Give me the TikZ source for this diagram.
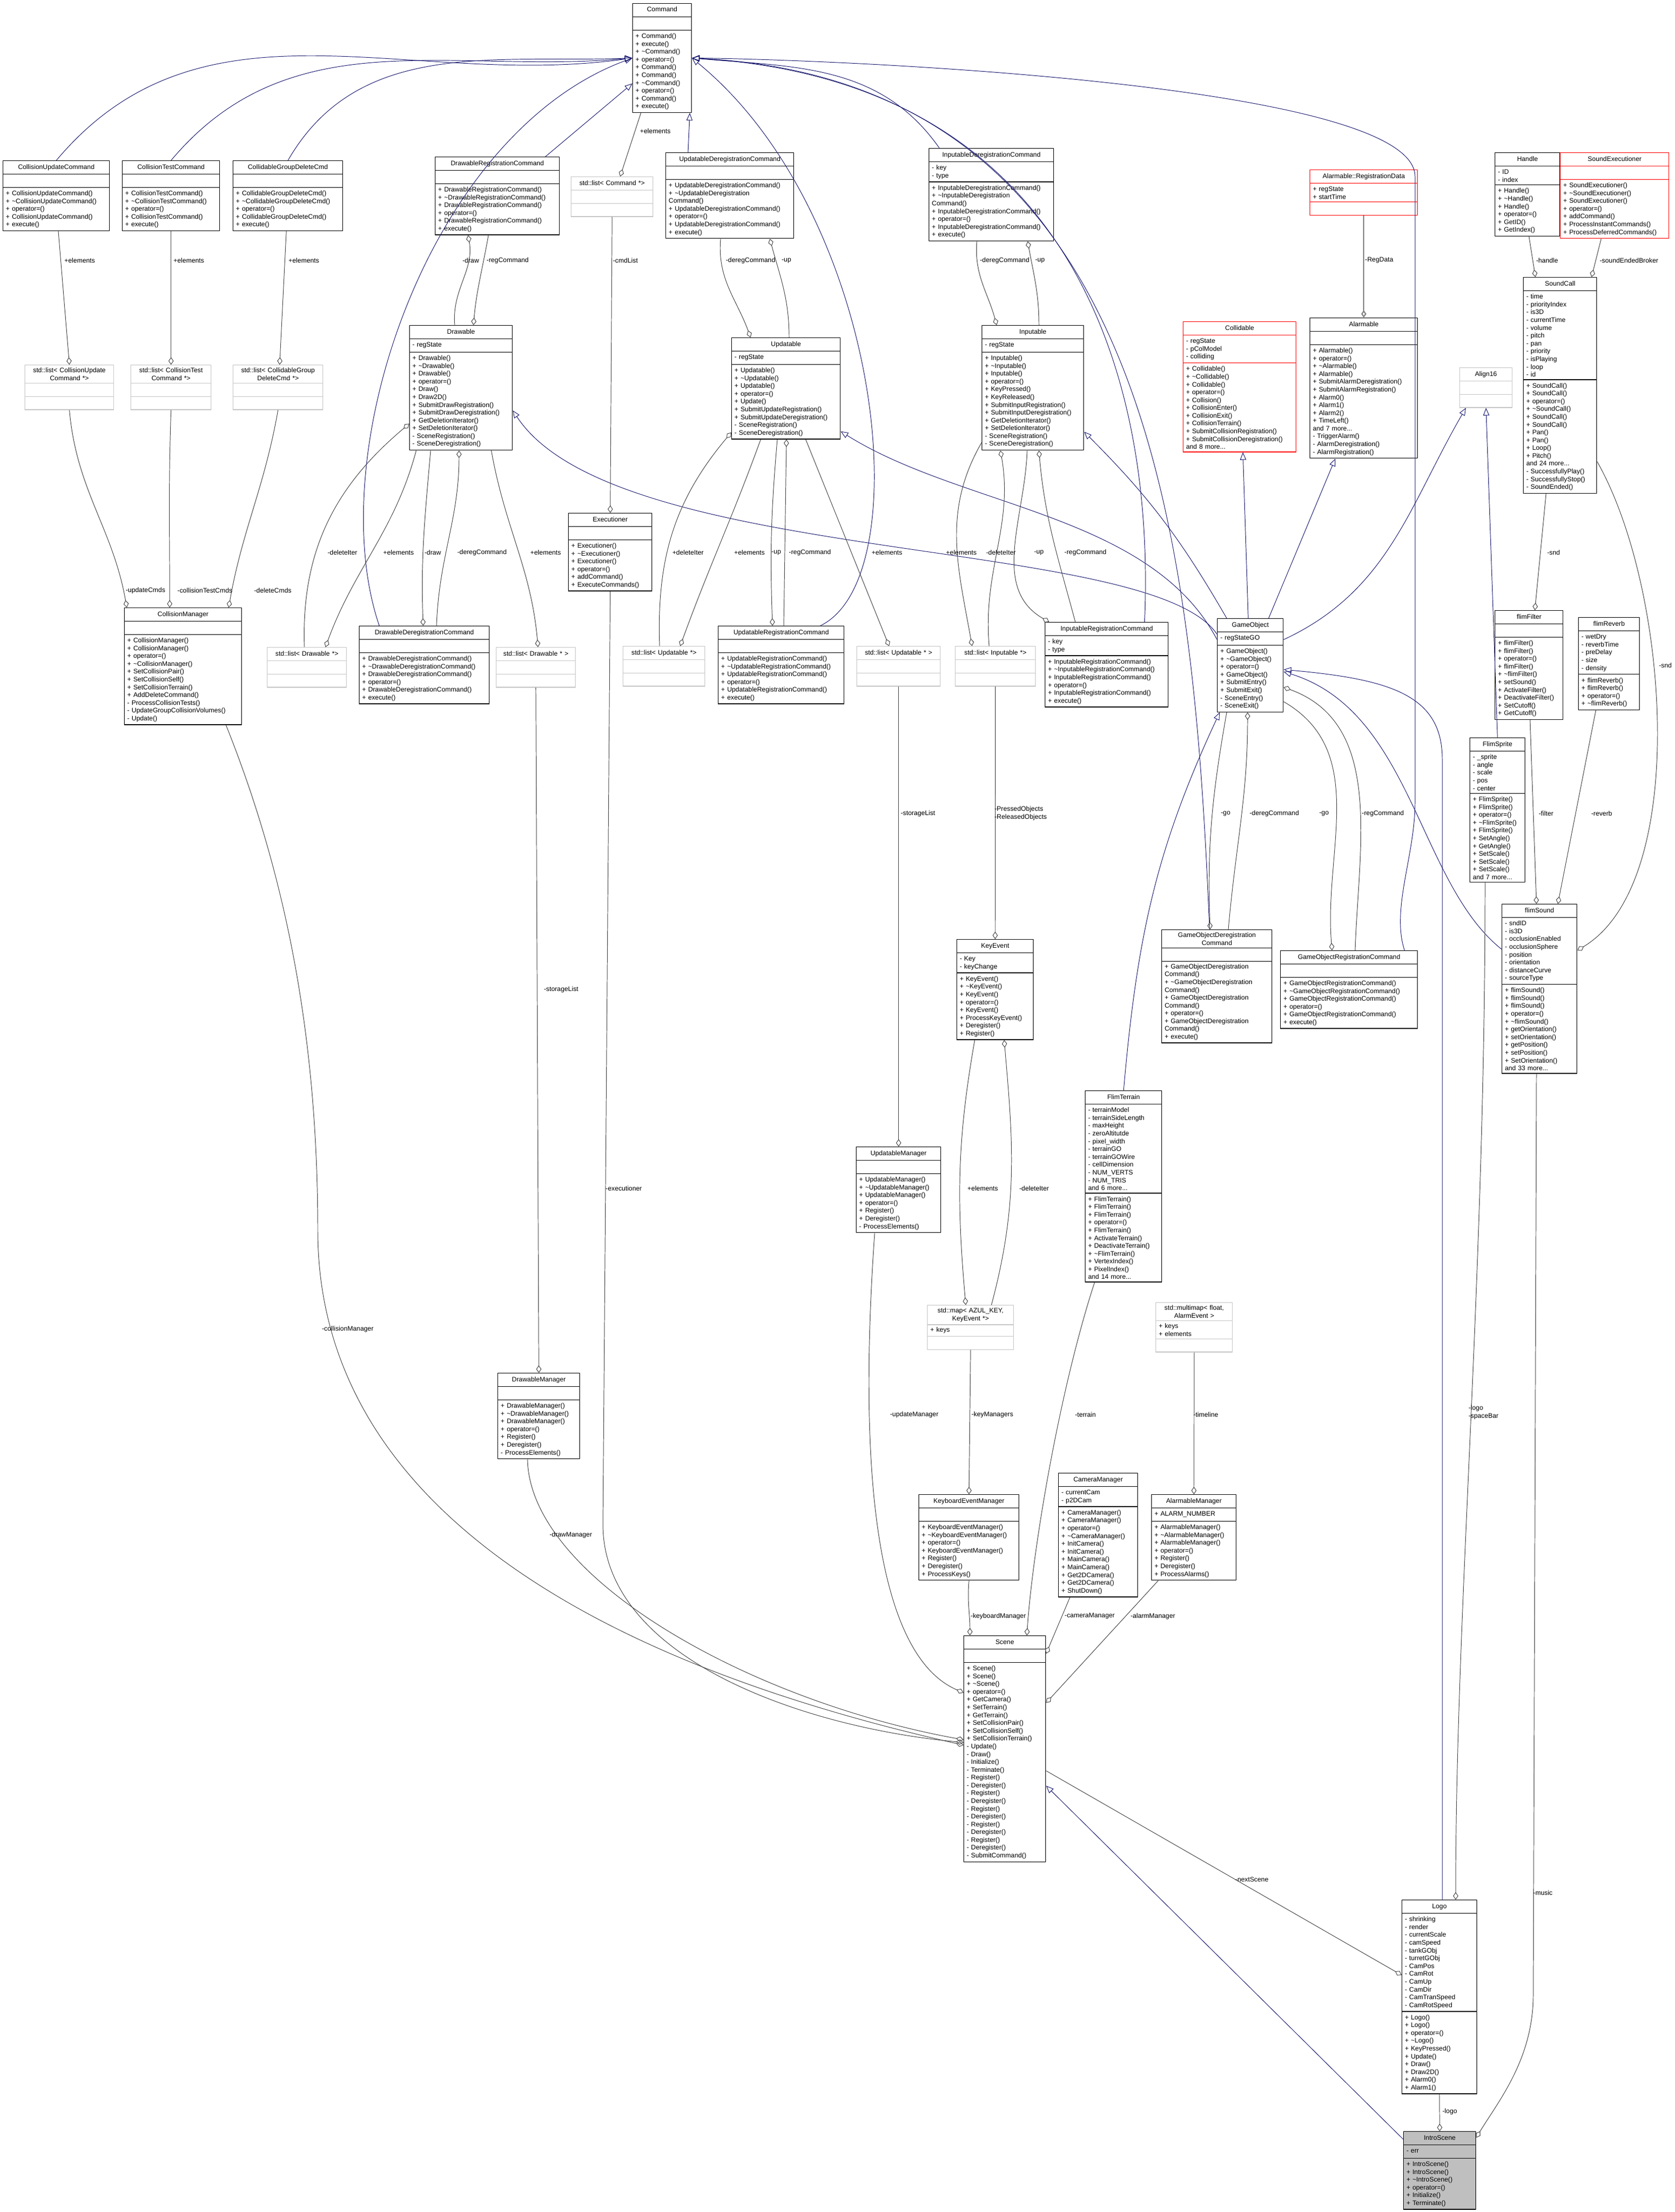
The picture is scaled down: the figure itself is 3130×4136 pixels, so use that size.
\documentclass[tikz,border=0pt]{standalone}
\usepackage{fontspec}
\setmainfont{Liberation Sans}
\usetikzlibrary{shapes.multipart,arrows.meta,calc}

\newdimen\pxu \pxu=0.02cm
\newcommand{\tld}{\textasciitilde}
\newcommand{\ctr}[1]{\hfill#1\hfill\null}
% class box: [style]{name}{x}{y}{width}{title}{attributes}{methods}
\newcommand{\umlclass}[8][]{%
  \node[cls,#1,text width=\dimexpr #5\pxu-6pt\relax] (#2) at (#3,-#4)
    {\strut\ctr{#6}\nodepart{two}\strut#7\nodepart{three}\strut#8};}
% role label of a connector
\newcommand{\role}[3]{\node[lbl] at (#1,-#2) {#3};}

\begin{document}
\begin{tikzpicture}[
	x=0.02cm, y=0.02cm,
	cls/.style = {rectangle split, rectangle split parts=3, draw, line width=0.8pt,
		anchor=north west, align=left, inner xsep=3pt, inner ysep=2.5pt,
		font=\fontsize{7}{8.3}\selectfont},
	tmpl/.style = {draw=gray!45},
	undoc/.style = {draw=red},
	focus/.style = {fill=gray!50},
	inh/.style = {draw=navyblue, line width=0.55pt, -{Triangle[open,length=8pt,width=6.5pt]}},
	comp/.style = {draw=edgegray, line width=0.55pt, -{Diamond[open,length=8pt,width=5.5pt]}},
	lbl/.style = {font=\fontsize{7}{8.3}\selectfont, inner sep=1pt, align=left, text=black}
	]
	\definecolor{navyblue}{RGB}{25,25,112}
	\definecolor{edgegray}{RGB}{64,64,64}
	\useasboundingbox (0,0) rectangle (3130,-4136);

	% --- top row
	\umlclass{cmd}{1182}{6}{110}{Command}{}{+ Command()\\+ execute()\\+ \tld Command()\\+ operator=()\\+ Command()\\+ Command()\\+ \tld Command()\\+ operator=()\\+ Command()\\+ execute()}
	\umlclass{cuc}{5}{300}{199}{CollisionUpdateCommand}{}{+ CollisionUpdateCommand()\\+ \tld CollisionUpdateCommand()\\+ operator=()\\+ CollisionUpdateCommand()\\+ execute()}
	\umlclass{ctc}{228}{300}{182}{CollisionTestCommand}{}{+ CollisionTestCommand()\\+ \tld CollisionTestCommand()\\+ operator=()\\+ CollisionTestCommand()\\+ execute()}
	\umlclass{cgdc}{435}{300}{205}{CollidableGroupDeleteCmd}{}{+ CollidableGroupDeleteCmd()\\+ \tld CollidableGroupDeleteCmd()\\+ operator=()\\+ CollidableGroupDeleteCmd()\\+ execute()}
	\umlclass{drc}{813}{293}{232}{DrawableRegistrationCommand}{}{+ DrawableRegistrationCommand()\\+ \tld DrawableRegistrationCommand()\\+ DrawableRegistrationCommand()\\+ operator=()\\+ DrawableRegistrationCommand()\\+ execute()}
	\umlclass[tmpl]{lcmd}{1067}{330}{153}{std::list< Command *>}{}{}
	\umlclass{udc}{1244}{285}{239}{UpdatableDeregistrationCommand}{}{+ UpdatableDeregistrationCommand()\\+ \tld UpdatableDeregistration\\Command()\\+ UpdatableDeregistrationCommand()\\+ operator=()\\+ UpdatableDeregistrationCommand()\\+ execute()}
	\umlclass{idc}{1736}{277}{233}{InputableDeregistrationCommand}{- key\\- type}{+ InputableDeregistrationCommand()\\+ \tld InputableDeregistration\\Command()\\+ InputableDeregistrationCommand()\\+ operator=()\\+ InputableDeregistrationCommand()\\+ execute()}
	\umlclass[undoc]{rgd}{2448}{317}{201}{Alarmable::RegistrationData}{+ regState\\+ startTime}{}
	\umlclass{hnd}{2794}{285}{121}{Handle}{- ID\\- index}{+ Handle()\\+ \tld Handle()\\+ Handle()\\+ operator=()\\+ GetID()\\+ GetIndex()}
	\umlclass[undoc]{sex}{2916}{285}{203}{SoundExecutioner}{}{+ SoundExecutioner()\\+ \tld SoundExecutioner()\\+ SoundExecutioner()\\+ operator=()\\+ addCommand()\\+ ProcessInstantCommands()\\+ ProcessDeferredCommands()}

	% --- second row
	\umlclass{drw}{765}{608}{192}{Drawable}{- regState}{+ Drawable()\\+ \tld Drawable()\\+ Drawable()\\+ operator=()\\+ Draw()\\+ Draw2D()\\+ SubmitDrawRegistration()\\+ SubmitDrawDeregistration()\\+ GetDeletionIterator()\\+ SetDeletionIterator()\\- SceneRegistration()\\- SceneDeregistration()}
	\node[cls,tmpl,text width=\dimexpr166\pxu-6pt\relax] (lcu) at (46,-682) {\ctr{std::list< CollisionUpdate}\\\ctr{Command *>}\nodepart{two}\strut\nodepart{three}\strut};
	\node[cls,tmpl,text width=\dimexpr150\pxu-6pt\relax] (lct) at (244,-682) {\ctr{std::list< CollisionTest}\\\ctr{Command *>}\nodepart{two}\strut\nodepart{three}\strut};
	\node[cls,tmpl,text width=\dimexpr168\pxu-6pt\relax] (lcg) at (435,-682) {\ctr{std::list< CollidableGroup}\\\ctr{DeleteCmd *>}\nodepart{two}\strut\nodepart{three}\strut};
	\umlclass{upd}{1367}{631}{203}{Updatable}{- regState}{+ Updatable()\\+ \tld Updatable()\\+ Updatable()\\+ operator=()\\+ Update()\\+ SubmitUpdateRegistration()\\+ SubmitUpdateDeregistration()\\- SceneRegistration()\\- SceneDeregistration()}
	\umlclass{inp}{1835}{608}{190}{Inputable}{- regState}{+ Inputable()\\+ \tld Inputable()\\+ Inputable()\\+ operator=()\\+ KeyPressed()\\+ KeyReleased()\\+ SubmitInputRegistration()\\+ SubmitInputDeregistration()\\+ GetDeletionIterator()\\+ SetDeletionIterator()\\- SceneRegistration()\\- SceneDeregistration()}
	\umlclass[undoc]{col}{2211}{601}{211}{Collidable}{- regState\\- pColModel\\- colliding}{+ Collidable()\\+ \tld Collidable()\\+ Collidable()\\+ operator=()\\+ Collision()\\+ CollisionEnter()\\+ CollisionExit()\\+ CollisionTerrain()\\+ SubmitCollisionRegistration()\\+ SubmitCollisionDeregistration()\\and 8 more...}
	\umlclass{alm}{2448}{594}{201}{Alarmable}{}{+ Alarmable()\\+ operator=()\\+ \tld Alarmable()\\+ Alarmable()\\+ SubmitAlarmDeregistration()\\+ SubmitAlarmRegistration()\\+ Alarm0()\\+ Alarm1()\\+ Alarm2()\\+ TimeLeft()\\and 7 more...\\- TriggerAlarm()\\- AlarmDeregistration()\\- AlarmRegistration()}
	\umlclass[tmpl]{a16}{2728}{687}{98}{Align16}{}{}
	\umlclass{scl}{2847}{518}{137}{SoundCall}{- time\\- priorityIndex\\- is3D\\- currentTime\\- volume\\- pitch\\- pan\\- priority\\- isPlaying\\- loop\\- id}{+ SoundCall()\\+ SoundCall()\\+ operator=()\\+ \tld SoundCall()\\+ SoundCall()\\+ SoundCall()\\+ Pan()\\+ Pan()\\+ Loop()\\+ Pitch()\\and 24 more...\\- SuccessfullyPlay()\\- SuccessfullyStop()\\- SoundEnded()}

	% --- third row
	\umlclass{colm}{232}{1136}{219}{CollisionManager}{}{+ CollisionManager()\\+ CollisionManager()\\+ operator=()\\+ \tld CollisionManager()\\+ SetCollisionPair()\\+ SetCollisionSelf()\\+ SetCollisionTerrain()\\+ AddDeleteCommand()\\- ProcessCollisionTests()\\- UpdateGroupCollisionVolumes()\\- Update()}
	\umlclass[tmpl]{ldl}{499}{1210}{148}{std::list< Drawable *>}{}{}
	\umlclass{ddc}{671}{1170}{243}{DrawableDeregistrationCommand}{}{+ DrawableDeregistrationCommand()\\+ \tld DrawableDeregistrationCommand()\\+ DrawableDeregistrationCommand()\\+ operator=()\\+ DrawableDeregistrationCommand()\\+ execute()}
	\umlclass{exe}{1062}{959}{156}{Executioner}{}{+ Executioner()\\+ \tld Executioner()\\+ Executioner()\\+ operator=()\\+ addCommand()\\+ ExecuteCommands()}
	\umlclass[tmpl]{ldm}{927}{1210}{148}{std::list< Drawable * >}{}{}
	\umlclass[tmpl]{lul}{1164}{1208}{153}{std::list< Updatable *>}{}{}
	\umlclass{urc}{1342}{1170}{235}{UpdatableRegistrationCommand}{}{+ UpdatableRegistrationCommand()\\+ \tld UpdatableRegistrationCommand()\\+ UpdatableRegistrationCommand()\\+ operator=()\\+ UpdatableRegistrationCommand()\\+ execute()}
	\umlclass[tmpl]{lur}{1601}{1208}{156}{std::list< Updatable * >}{}{}
	\umlclass[tmpl]{linp}{1785}{1208}{150}{std::list< Inputable *>}{}{}
	\umlclass{irc}{1953}{1163}{230}{InputableRegistrationCommand}{- key\\- type}{+ InputableRegistrationCommand()\\+ \tld InputableRegistrationCommand()\\+ InputableRegistrationCommand()\\+ operator=()\\+ InputableRegistrationCommand()\\+ execute()}
	\umlclass{go}{2275}{1156}{123}{GameObject}{- regStateGO}{+ GameObject()\\+ \tld GameObject()\\+ operator=()\\+ GameObject()\\+ SubmitEntry()\\+ SubmitExit()\\- SceneEntry()\\- SceneExit()}
	\umlclass{ffl}{2794}{1141}{127}{flimFilter}{}{+ flimFilter()\\+ flimFilter()\\+ operator=()\\+ flimFilter()\\+ \tld flimFilter()\\+ setSound()\\+ ActivateFilter()\\+ DeactivateFilter()\\+ SetCutoff()\\+ GetCutoff()}
	\umlclass{frv}{2950}{1154}{114}{flimReverb}{- wetDry\\- reverbTime\\- preDelay\\- size\\- density}{+ flimReverb()\\+ flimReverb()\\+ operator=()\\+ \tld flimReverb()}
	\umlclass{fsp}{2747}{1379}{103}{FlimSprite}{- \_sprite\\- angle\\- scale\\- pos\\- center}{+ FlimSprite()\\+ FlimSprite()\\+ operator=()\\+ \tld FlimSprite()\\+ FlimSprite()\\+ SetAngle()\\+ GetAngle()\\+ SetScale()\\+ SetScale()\\+ SetScale()\\and 7 more...}
	\umlclass{fsn}{2807}{1690}{140}{flimSound}{- sndID\\- is3D\\- occlusionEnabled\\- occlusionSphere\\- position\\- orientation\\- distanceCurve\\- sourceType}{+ flimSound()\\+ flimSound()\\+ flimSound()\\+ operator=()\\+ \tld flimSound()\\+ getOrientation()\\+ setOrientation()\\+ getPosition()\\+ setPosition()\\+ SetOrientation()\\and 33 more...}

	% --- middle
	\umlclass{kev}{1788}{1756}{143}{KeyEvent}{- Key\\- keyChange}{+ KeyEvent()\\+ \tld KeyEvent()\\+ KeyEvent()\\+ operator=()\\+ KeyEvent()\\+ ProcessKeyEvent()\\+ Deregister()\\+ Register()}
	\node[cls,text width=\dimexpr206\pxu-6pt\relax] (godc) at (2171,-1738) {\ctr{GameObjectDeregistration}\\\ctr{Command}\nodepart{two}\strut\nodepart{three}+ GameObjectDeregistration\\Command()\\+ \tld GameObjectDeregistration\\Command()\\+ GameObjectDeregistration\\Command()\\+ operator=()\\+ GameObjectDeregistration\\Command()\\+ execute()};
	\umlclass{gorc}{2393}{1777}{256}{GameObjectRegistrationCommand}{}{+ GameObjectRegistrationCommand()\\+ \tld GameObjectRegistrationCommand()\\+ GameObjectRegistrationCommand()\\+ operator=()\\+ GameObjectRegistrationCommand()\\+ execute()}
	\umlclass{ftr}{2028}{2039}{143}{FlimTerrain}{- terrainModel\\- terrainSideLength\\- maxHeight\\- zeroAltitutde\\- pixel\_width\\- terrainGO\\- terrainGOWire\\- cellDimension\\- NUM\_VERTS\\- NUM\_TRIS\\and 6 more...}{+ FlimTerrain()\\+ FlimTerrain()\\+ FlimTerrain()\\+ operator=()\\+ FlimTerrain()\\+ ActivateTerrain()\\+ DeactivateTerrain()\\+ \tld FlimTerrain()\\+ VertexIndex()\\+ PixelIndex()\\and 14 more...}
	\umlclass{umgr}{1600}{2144}{158}{UpdatableManager}{}{+ UpdatableManager()\\+ \tld UpdatableManager()\\+ UpdatableManager()\\+ operator=()\\+ Register()\\+ Deregister()\\- ProcessElements()}
	\node[cls,tmpl,text width=\dimexpr161\pxu-6pt\relax] (map) at (1733,-2440) {\ctr{std::map< AZUL\_KEY,}\\\ctr{KeyEvent *>}\nodepart{two}+ keys\nodepart{three}\strut};
	\node[cls,tmpl,text width=\dimexpr143\pxu-6pt\relax] (mmap) at (2160,-2435) {\ctr{std::multimap< float,}\\\ctr{AlarmEvent >}\nodepart{two}+ keys\\+ elements\nodepart{three}\strut};
	\umlclass{dmgr}{930}{2567}{153}{DrawableManager}{}{+ DrawableManager()\\+ \tld DrawableManager()\\+ DrawableManager()\\+ operator=()\\+ Register()\\+ Deregister()\\- ProcessElements()}
	\umlclass{kem}{1717}{2794}{187}{KeyboardEventManager}{}{+ KeyboardEventManager()\\+ \tld KeyboardEventManager()\\+ operator=()\\+ KeyboardEventManager()\\+ Register()\\+ Deregister()\\+ ProcessKeys()}
	\umlclass{cam}{1978}{2754}{148}{CameraManager}{- currentCam\\- p2DCam}{+ CameraManager()\\+ CameraManager()\\+ operator=()\\+ \tld CameraManager()\\+ InitCamera()\\+ InitCamera()\\+ MainCamera()\\+ MainCamera()\\+ Get2DCamera()\\+ Get2DCamera()\\+ ShutDown()}
	\umlclass{amgr}{2152}{2794}{158}{AlarmableManager}{+ ALARM\_NUMBER}{+ AlarmableManager()\\+ \tld AlarmableManager()\\+ AlarmableManager()\\+ operator=()\\+ Register()\\+ Deregister()\\+ ProcessAlarms()}

	% --- bottom
	\umlclass{scene}{1801}{3058}{153}{Scene}{}{+ Scene()\\+ Scene()\\+ \tld Scene()\\+ operator=()\\+ GetCamera()\\+ SetTerrain()\\+ GetTerrain()\\+ SetCollisionPair()\\+ SetCollisionSelf()\\+ SetCollisionTerrain()\\- Update()\\- Draw()\\- Initialize()\\- Terminate()\\- Register()\\- Deregister()\\- Register()\\- Deregister()\\- Register()\\- Deregister()\\- Register()\\- Deregister()\\- Register()\\- Deregister()\\- SubmitCommand()}
	\umlclass{logo}{2620}{3552}{140}{Logo}{- shrinking\\- render\\- currentScale\\- camSpeed\\- tankGObj\\- turretGObj\\- CamPos\\- CamRot\\- CamUp\\- CamDir\\- CamTranSpeed\\- CamRotSpeed}{+ Logo()\\+ Logo()\\+ operator=()\\+ \tld Logo()\\+ KeyPressed()\\+ Update()\\+ Draw()\\+ Draw2D()\\+ Alarm0()\\+ Alarm1()}
	\umlclass[focus]{intro}{2623}{3985}{135}{IntroScene}{- err}{+ IntroScene()\\+ IntroScene()\\+ \tld IntroScene()\\+ operator=()\\+ Initialize()\\+ Terminate()}

	% inheritance
	\draw[inh] (cuc.north) to[out=50,in=188] (cmd.west);
	\draw[inh] (ctc.north) to[out=50,in=185] (cmd.west);
	\draw[inh] (cgdc.north) to[out=60,in=182] (cmd.west);
	\draw[inh] ($(ddc.north west)+(38,0)$) .. controls (600,-850) and (800,-250) .. (cmd.west);
	\draw[inh] ($(drc.north east)+(-27,0)$) -- ($(cmd.south west)+(0,55)$);
	\draw[inh] ($(udc.north west)+(42,0)$) -- ($(cmd.south east)+(-4,0)$);
	\draw[inh] ($(urc.north east)+(-45,0)$) .. controls (1720,-1080) and (1650,-400) .. (cmd.east);
	\draw[inh] ($(idc.north west)+(20,0)$) to[out=125,in=-5] (cmd.east);
	\draw[inh] ($(irc.north east)+(-45,0)$) .. controls (2160,-700) and (2000,-150) .. (cmd.east);
	\draw[inh] ($(godc.north west)+(90,0)$) .. controls (2230,-1000) and (2150,-150) .. (cmd.east);
	\draw[inh] ($(gorc.north east)+(-25,0)$) .. controls (2600,-1700) and (2645,-1600) .. (2645,-1500) -- (2645,-330) .. controls (2645,-150) and (1500,-110) .. (cmd.east);
	\draw[inh] ($(go.north west)+(0,-30)$) .. controls (2150,-1000) and (1150,-1060) .. ($(drw.south east)+(0,75)$);
	\draw[inh] ($(go.north west)+(0,-40)$) .. controls (2150,-960) and (1800,-950) .. ($(upd.south east)+(0,15)$);
	\draw[inh] ($(go.north west)+(18,0)$) to[out=120,in=-45] ($(inp.south east)+(0,35)$);
	\draw[inh] ($(go.north)+(-4,0)$) -- ($(col.south)+(6,0)$);
	\draw[inh] ($(go.north east)+(-28,0)$) -- ($(alm.south west)+(48,0)$);
	\draw[inh] ($(go.north east)+(0,-40)$) to[out=25,in=-120] ($(a16.south west)+(12,0)$);
	\draw[inh] (fsp.north) -- (a16.south);
	\draw[inh] (ftr.north) to[out=85,in=-115] ($(go.south west)+(5,0)$);
	\draw[inh] ($(fsn.north west)+(0,-85)$) .. controls (2650,-1650) and (2640,-1330) .. ($(go.east)+(0,-12)$);
	\draw[inh] ($(logo.north west)+(76,0)$) -- (2696,-1420) .. controls (2696,-1300) and (2600,-1270) .. ($(go.east)+(0,-8)$);
	\draw[inh] ($(intro.north west)+(0,-15)$) -- ($(scene.east)+(0,-69)$);

	% composition
	\draw[comp] ($(cuc.south west)+(104,0)$) -- (lcu.north);
	\draw[comp] (ctc.south) -- (lct.north);
	\draw[comp] ($(cgdc.south)+(-3,0)$) -- ($(lcg.north)+(3,0)$);
	\draw[comp] ($(cmd.south west)+(16,0)$) -- ($(lcmd.north)+(15,0)$);
	\draw[comp] (lcmd.south) -- (exe.north);
	\draw[comp] (lcu.south) to[out=-85,in=100] ($(colm.north west)+(5,0)$);
	\draw[comp] (lct.south) to[out=-92,in=90] ($(colm.north)+(-25,0)$);
	\draw[comp] (lcg.south) to[out=-100,in=80] ($(colm.north east)+(-25,0)$);
	\draw[comp] ($(drw.north west)+(85,0)$) to[out=95,in=-80] ($(drc.south west)+(62,0)$);
	\draw[comp] ($(drc.south west)+(100,0)$) to[out=-100,in=85] ($(drw.north west)+(120,0)$);
	\draw[comp] ($(drw.south west)+(40,0)$) to[out=-95,in=92] ($(ddc.north west)+(120,0)$);
	\draw[comp] ($(ddc.north west)+(145,0)$) to[out=88,in=-90] ($(drw.south west)+(93,0)$);
	\draw[comp] ($(drw.south west)+(13,0)$) to[out=-105,in=70] ($(ldl.north east)+(-40,0)$);
	\draw[comp] ($(ldl.north west)+(70,0)$) to[out=92,in=-140] ($(drw.south west)+(0,50)$);
	\draw[comp] ($(drw.south east)+(-40,0)$) to[out=-80,in=95] ($(ldm.north)+(4,0)$);
	\draw[comp] (ldm.south) -- (dmgr.north);
	\draw[comp] ($(dmgr.south west)+(56,0)$) .. controls (990,-2950) and (1400,-3180) .. ($(scene.west)+(0,17)$);
	\draw[comp] (exe.south) -- (1127,-2850) .. controls (1127,-3100) and (1500,-3230) .. ($(scene.west)+(0,12)$);
	\draw[comp] ($(colm.south east)+(-30,0)$) .. controls (520,-1600) and (594,-1900) .. (594,-2300) .. controls (594,-2900) and (1300,-3150) .. ($(scene.west)+(0,7)$);
	\draw[comp] ($(umgr.south west)+(35,0)$) .. controls (1600,-2800) and (1650,-3100) .. ($(scene.west)+(0,105)$);
	\draw[comp] (kem.south) to[out=-95,in=90] ($(scene.north west)+(12,0)$);
	\draw[comp] ($(ftr.south west)+(18,0)$) .. controls (1980,-2600) and (1930,-2900) .. ($(scene.north east)+(-36,0)$);
	\draw[comp] ($(cam.south west)+(22,0)$) -- ($(scene.north east)+(0,-34)$);
	\draw[comp] ($(amgr.south west)+(13,0)$) -- ($(scene.north east)+(0,-126)$);
	\draw[comp] (map.south) -- (kem.north);
	\draw[comp] (mmap.south) -- (amgr.north);
	\draw[comp] ($(kev.south west)+(34,0)$) to[out=-100,in=95] ($(map.north)+(-9,0)$);
	\draw[comp] ($(map.north)+(39,0)$) to[out=75,in=-85] ($(kev.south west)+(89,0)$);
	\draw[comp] (linp.south) -- (kev.north);
	\draw[comp] (lur.south) -- (umgr.north);
	\draw[comp] ($(udc.south west)+(103,0)$) to[out=-95,in=110] ($(upd.north west)+(36,0)$);
	\draw[comp] ($(upd.north west)+(108,0)$) to[out=90,in=-75] ($(udc.south west)+(195,0)$);
	\draw[comp] ($(lul.north west)+(69,0)$) to[out=92,in=-130] ($(upd.south west)+(0,13)$);
	\draw[comp] ($(upd.south west)+(55,0)$) to[out=-110,in=70] ($(lul.north east)+(-47,0)$);
	\draw[comp] ($(upd.south west)+(86,0)$) to[out=-95,in=92] ($(urc.north west)+(102,0)$);
	\draw[comp] ($(urc.north west)+(123,0)$) -- ($(upd.south west)+(103,0)$);
	\draw[comp] ($(upd.south west)+(139,0)$) -- ($(lur.north west)+(61,0)$);
	\draw[comp] ($(idc.south west)+(90,0)$) to[out=-95,in=105] ($(inp.north west)+(28,0)$);
	\draw[comp] ($(inp.north west)+(107,0)$) to[out=90,in=-80] ($(idc.south west)+(185,0)$);
	\draw[comp] ($(inp.south west)+(0,15)$) to[out=-120,in=100] ($(linp.north west)+(32,0)$);
	\draw[comp] ($(linp.north west)+(64,0)$) to[out=95,in=-80] ($(inp.south west)+(35,0)$);
	\draw[comp] ($(inp.south west)+(85,0)$) to[out=-92,in=150] ($(irc.north west)+(8,0)$);
	\draw[comp] ($(irc.north west)+(57,0)$) to[out=105,in=-85] ($(inp.south west)+(107,0)$);
	\draw[comp] ($(go.south west)+(18,0)$) to[out=-100,in=92] ($(godc.north west)+(91,0)$);
	\draw[comp] ($(godc.north west)+(125,0)$) to[out=85,in=-90] ($(go.south west)+(57,0)$);
	\draw[comp] ($(go.south east)+(0,20)$) to[out=-30,in=95] ($(gorc.north west)+(97,0)$);
	\draw[comp] ($(gorc.north west)+(140,0)$) to[out=88,in=-20] ($(go.south east)+(0,47)$);
	\draw[comp] ($(hnd.south west)+(64,0)$) -- ($(scl.north west)+(23,0)$);
	\draw[comp] ($(sex.south west)+(77,0)$) -- ($(scl.north west)+(128,0)$);
	\draw[comp] ($(scl.south west)+(43,0)$) -- ($(ffl.north west)+(75,0)$);
	\draw[comp] ($(scl.south east)+(0,60)$) .. controls (3120,-1100) and (3160,-1650) .. ($(fsn.north east)+(0,-87)$);
	\draw[comp] ($(ffl.south west)+(66,0)$) -- ($(fsn.north west)+(65,0)$);
	\draw[comp] ($(frv.south west)+(33,0)$) -- ($(fsn.north west)+(105,0)$);
	\draw[comp, draw=gray, line width=1.2pt] (rgd.south) -- (alm.north);
	\draw[comp] ($(fsp.south west)+(29,0)$) .. controls (2776,-2400) and (2721,-3000) .. ($(logo.north west)+(101,0)$);
	\draw[comp] ($(scene.east)+(0,-41)$) -- ($(logo.north west)+(0,-141)$);
	\draw[comp] (logo.south) -- (intro.north);
	\draw[comp] ($(fsn.south west)+(65,0)$) -- (2866,-3730) .. controls (2866,-3850) and (2800,-3930) .. ($(intro.north east)+(0,-12)$);

	% role labels
	\role{1225}{245}{+elements}
	\role{149}{487}{+elements} \role{353}{487}{+elements} \role{568}{487}{+elements}
	\role{1169}{487}{-cmdList} \role{880}{487}{-draw} \role{949}{487}{-regCommand}
	\role{1403}{487}{-deregCommand} \role{1470}{487}{-up}
	\role{1878}{487}{-deregCommand} \role{1944}{487}{-up}
	\role{2578}{487}{-RegData} \role{2892}{487}{-handle} \role{3045}{487}{-soundEndedBroker}
	\role{640}{1033}{-deleteIter} \role{745}{1033}{+elements} \role{809}{1033}{-draw}
	\role{901}{1033}{-deregCommand} \role{1020}{1033}{+elements}
	\role{1286}{1033}{+deleteIter} \role{1401}{1033}{+elements} \role{1451}{1033}{-up}
	\role{1514}{1033}{-regCommand} \role{1658}{1033}{+elements}
	\role{1797}{1033}{+elements} \role{1871}{1033}{-deleteIter} \role{1942}{1033}{-up}
	\role{2029}{1033}{-regCommand} \role{2904}{1033}{-snd}
	\role{272}{1104}{-updateCmds} \role{383}{1104}{-collisionTestCmds} \role{510}{1104}{-deleteCmds}
	\role{3113}{1244}{-snd}
	\role{1908}{1521}{-PressedObjects\\-ReleasedObjects} \role{1716}{1521}{-storageList}
	\role{2291}{1521}{-go} \role{2382}{1521}{-deregCommand} \role{2475}{1521}{-go}
	\role{2585}{1521}{-regCommand} \role{2890}{1521}{-filter} \role{2994}{1521}{-reverb}
	\role{1049}{1850}{-storageList}
	\role{1837}{2222}{+elements} \role{1933}{2222}{-deleteIter} \role{1166}{2222}{-executioner}
	\role{650}{2485}{-collisionManager}
	\role{1709}{2645}{-updateManager} \role{1855}{2645}{-keyManagers} \role{2029}{2645}{-terrain}
	\role{2254}{2645}{-timeline} \role{2773}{2641}{-logo\\-spaceBar}
	\role{1067}{2870}{-drawManager}
	\role{1866}{3022}{-keyboardManager} \role{2037}{3022}{-cameraManager} \role{2155}{3022}{-alarmManager}
	\role{2340}{3514}{-nextScene} \role{2884}{3539}{-music} \role{2710}{3948}{-logo}
\end{tikzpicture}
\end{document}
